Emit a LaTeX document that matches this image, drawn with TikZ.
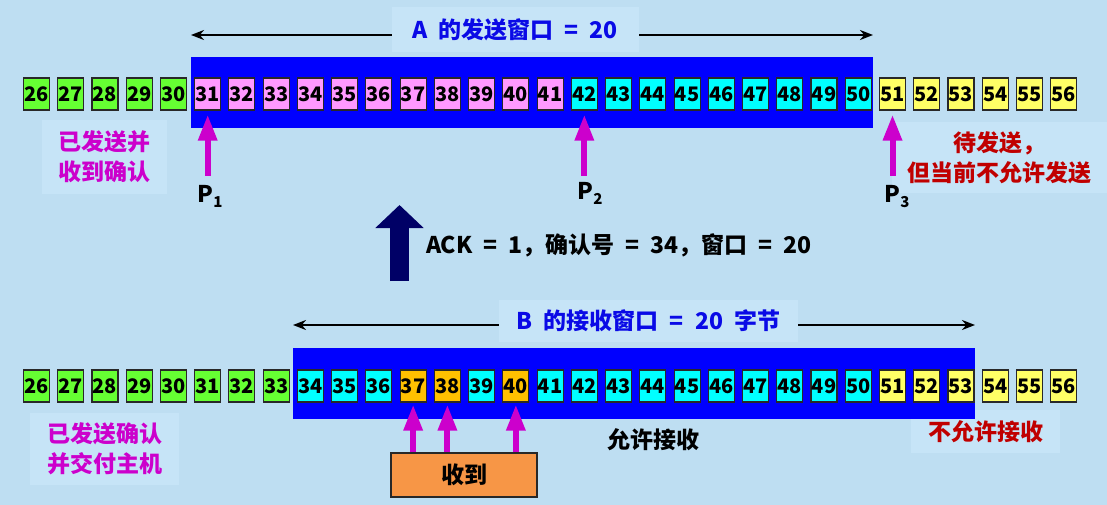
\documentclass[tikz,border=0pt]{standalone}
\usepackage{fontspec}
\setmainfont{Noto Sans CJK SC}[WordSpace=2.1]
\usetikzlibrary{arrows.meta}
\definecolor{bgc}{RGB}{190,222,242}
\definecolor{lbg}{RGB}{198,228,247}
\definecolor{gr}{RGB}{102,255,51}
\definecolor{pk}{RGB}{255,153,255}
\definecolor{cy}{RGB}{0,255,255}
\definecolor{ye}{RGB}{255,255,102}
\definecolor{og}{RGB}{255,192,0}
\definecolor{mag}{RGB}{204,0,204}
\definecolor{dred}{RGB}{192,0,0}
\definecolor{navy}{RGB}{0,0,102}
\definecolor{wblue}{RGB}{0,0,255}
\definecolor{tblue}{RGB}{10,10,230}
\definecolor{rcv}{RGB}{247,150,70}
\definecolor{edge}{RGB}{40,40,40}
\begin{document}
\begin{tikzpicture}[x=1pt,y=-1pt,
  seg/.style={draw=edge, line width=1.1pt, minimum width=26pt, minimum height=32pt, inner sep=0pt,
    font=\fontsize{20}{20}\selectfont\bfseries},
  win/.style={fill=wblue, draw=none, inner sep=0pt, minimum width=682pt, minimum height=71pt},
  lbl/.style={fill=lbg, inner sep=0pt, font=\fontsize{23}{30}\selectfont\bfseries, align=center},
  txt/.style={inner sep=0pt, font=\fontsize{23}{30}\selectfont\bfseries, align=center},
  span/.style={draw=black, line width=2.2pt, {Stealth[length=13pt,width=10pt]}-{Stealth[length=13pt,width=10pt]}},
  ptr/.style={draw=mag, line width=6pt, -{Triangle[length=26pt,width=18pt]}},
  bigptr/.style={draw=navy, line width=19pt, -{Triangle[length=23pt,width=47pt]}},
  plab/.style={inner sep=0pt, font=\fontsize{23}{23}\selectfont\bfseries}
]
\useasboundingbox[fill=bgc] (0,0) rectangle (1107,505);

% ---------- label backgrounds (drawn first) ----------
\node[lbl, text=mag, minimum width=125pt, minimum height=73pt] (adone) at (104.5,157) {已发送并\\收到确认};
\node[lbl, text=dred, minimum width=215pt, minimum height=71pt] (await) at (999.5,157.5) {待发送，\\但当前不允许发送};
\node[lbl, text=mag, minimum width=149pt, minimum height=72pt] (bdone) at (104.5,449) {已发送确认\\并交付主机};
\node[lbl, text=dred, minimum width=149pt, minimum height=43pt] (deny) at (985.5,431.5) {不允许接收};

% ---------- sender A ----------
\node[win] (awin) at (532,92.5) {};
\coordinate (aspanL) at (191,35);
\coordinate (aspanR) at (873,35);
\draw[span] (aspanL) -- (aspanR);
\node[lbl, text=tblue, minimum width=247pt, minimum height=45pt] (atitle) at (515,30) {A 的发送窗口 = 20};

\foreach \a/\b/\c in {26/30/gr,31/41/pk,42/50/cy,51/56/ye}
  \foreach \n in {\a,...,\b}
    \node[seg, fill=\c] (t\n) at ({36.5+(\n-26)*34.24},94) {\n};

\draw[ptr] ([yshift=-65pt]t31.south) -- ([yshift=-4pt]t31.south);
\draw[ptr] ([yshift=-65pt]t42.south) -- ([yshift=-4pt]t42.south);
\draw[ptr] ([yshift=-65pt]t51.south) -- ([yshift=-4pt]t51.south);
\node[plab] (p1) at (210,196) {P\raisebox{-5pt}{\fontsize{15}{15}\selectfont 1}};
\node[plab] (p2) at (590,193) {P\raisebox{-5pt}{\fontsize{15}{15}\selectfont 2}};
\node[plab] (p3) at (897,197) {P\raisebox{-5pt}{\fontsize{15}{15}\selectfont 3}};

% ---------- ACK ----------
\coordinate (ackb) at (399.5,281);
\coordinate (ackt) at (399.5,205);
\draw[bigptr] (ackb) -- (ackt);
\node[txt, text=black] (ack) at (619,245) {ACK = 1，确认号 = 34，窗口 = 20};

% ---------- receiver B ----------
\node[win] (bwin) at (634,383.5) {};
\coordinate (bspanL) at (293,325);
\coordinate (bspanR) at (975,325);
\draw[span] (bspanL) -- (bspanR);
\node[lbl, text=tblue, minimum width=299pt, minimum height=42pt] (btitle) at (648.5,321) {B 的接收窗口 = 20 字节};

\foreach \a/\b/\c in {26/33/gr,34/36/cy,37/38/og,39/39/cy,40/40/og,41/50/cy,51/56/ye}
  \foreach \n in {\a,...,\b}
    \node[seg, fill=\c] (b\n) at ({36.5+(\n-26)*34.24},386) {\n};

\node[draw=edge, line width=1.2pt, fill=rcv, minimum width=146pt, minimum height=44pt, inner sep=0pt,
  font=\fontsize{23}{23}\selectfont\bfseries] (recv) at (464,475) {收到};
\draw[ptr] (recv.north -| b37) -- ([yshift=-2pt]b37.south);
\draw[ptr] (recv.north -| b38) -- ([yshift=-2pt]b38.south);
\draw[ptr] (recv.north -| b40) -- ([yshift=-2pt]b40.south);

\node[txt, text=black] (allow) at (653,440) {允许接收};
\end{tikzpicture}
\end{document}
